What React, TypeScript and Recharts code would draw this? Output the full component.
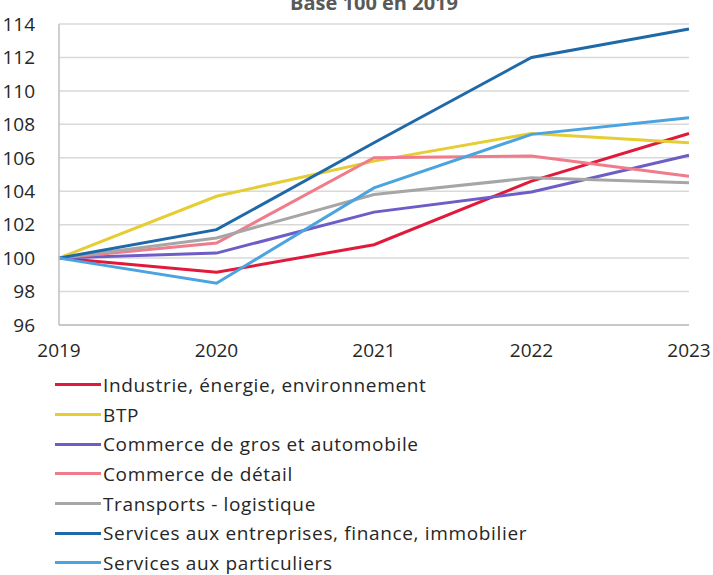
import { LineChart, Line, XAxis, YAxis, CartesianGrid, Legend } from 'recharts'

const years = ['2019', '2020', '2021', '2022', '2023']
const industrie = [100, 99.15, 100.8, 104.6, 107.45]
const btp = [100, 103.7, 105.8, 107.45, 106.9]
const commerceGros = [100, 100.3, 102.75, 103.95, 106.15]
const commerceDetail = [100, 100.9, 106.0, 106.1, 104.9]
const transports = [100, 101.2, 103.8, 104.8, 104.5]
const servicesEntreprises = [100, 101.7, 106.9, 112.0, 113.7]
const servicesParticuliers = [100, 98.5, 104.2, 107.4, 108.4]
const yTicks = [96, 98, 100, 102, 104, 106, 108, 110, 112, 114]

const series = [
  { key: 'Industrie, énergie, environnement', values: industrie, color: '#e1193b' },
  { key: 'BTP', values: btp, color: '#e5cd33' },
  { key: 'Commerce de gros et automobile', values: commerceGros, color: '#6e5cc7' },
  { key: 'Commerce de détail', values: commerceDetail, color: '#f07b8b' },
  { key: 'Transports - logistique', values: transports, color: '#a6a6a6' },
  { key: 'Services aux entreprises, finance, immobilier', values: servicesEntreprises, color: '#1f69a9' },
  { key: 'Services aux particuliers', values: servicesParticuliers, color: '#4ba3e0' },
]

const chartData = years.map((year, i) => {
  const row: Record<string, string | number> = { year }
  for (const s of series) row[s.key] = s.values[i]
  return row
})

const font = '"Open Sans", sans-serif'

function LegendList() {
  return (
    <div style={{ height: 208, fontFamily: font, fontSize: 19, letterSpacing: 0.65, color: '#262626', textAlign: 'left' }}>
      {series.map((s) => (
        <div key={s.key} style={{ height: 29.7, display: 'flex', alignItems: 'center', paddingLeft: 55 }}>
          <span style={{ display: 'inline-block', width: 46, height: 3, background: s.color, marginRight: 2, flex: 'none' }} />
          <span style={{ whiteSpace: 'nowrap' }}>{s.key}</span>
        </div>
      ))}
    </div>
  )
}

export default function App() {
  return (
    <div style={{ position: 'fixed', left: 0, top: 0, width: 713, height: 575, overflow: 'hidden', background: '#fff' }}>
      <div
        style={{
          position: 'absolute', left: 59, width: 630, top: -11, textAlign: 'center',
          fontFamily: font, fontWeight: 700, fontSize: 20, color: '#595959',
        }}
      >
        Base 100 en 2019
      </div>
      <LineChart width={713} height={578} data={chartData} margin={{ top: 24, right: 24, bottom: 0, left: 0 }}>
        <CartesianGrid vertical={false} stroke="#d9d9d9" strokeWidth={1.5} />
        <XAxis
          dataKey="year"
          height={45}
          tickLine={false}
          axisLine={{ stroke: '#bfbfbf', strokeWidth: 1.5 }}
          tick={{ fontSize: 19, fill: '#262626', fontFamily: font }}
          tickMargin={13}
          padding={{ left: 0, right: 0 }}
        />
        <XAxis xAxisId="top" dataKey="year" orientation="top" height={0} tick={false} tickLine={false} axisLine={{ stroke: '#bfbfbf', strokeWidth: 1.5 }} />
        <YAxis
          width={59}
          domain={[96, 114]}
          ticks={yTicks}
          interval={0}
          tickLine={false}
          axisLine={{ stroke: '#bfbfbf', strokeWidth: 1.5 }}
          tick={{ fontSize: 19, fill: '#262626', fontFamily: font }}
          tickMargin={18}
        />
        <YAxis yAxisId="right" orientation="right" width={0} domain={[96, 114]} tick={false} tickLine={false} axisLine={{ stroke: '#bfbfbf', strokeWidth: 1.5 }} />
        <Legend
          verticalAlign="bottom"
          layout="vertical"
          wrapperStyle={{ left: 0, width: 713 }}
          content={() => <LegendList />}
        />
        {series.map((s) => (
          <Line
            key={s.key}
            type="linear"
            dataKey={s.key}
            stroke={s.color}
            strokeWidth={3}
            dot={false}
            isAnimationActive={false}
          />
        ))}
      </LineChart>
    </div>
  )
}
